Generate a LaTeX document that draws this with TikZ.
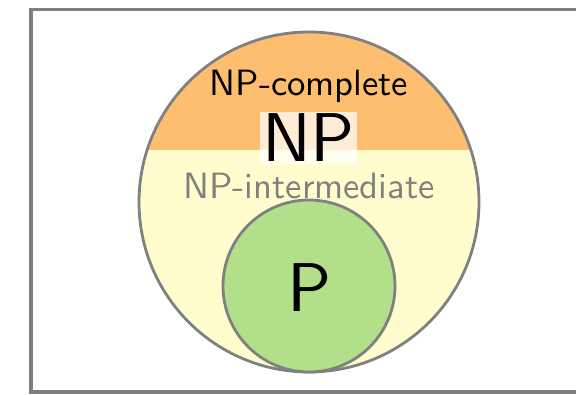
\documentclass[tikz,border=0pt]{standalone}
\usepackage{fontspec}
% the 10pt design of Latin Modern Sans, scaled up
\newfontfamily\lmsten{lmsans10-regular.otf}
\definecolor{npyellow}{RGB}{255,253,206}
\definecolor{nporange}{RGB}{253,190,111}
\definecolor{pgreen}{RGB}{178,223,138}
\definecolor{edgegray}{RGB}{128,128,128}
\begin{document}
\begin{tikzpicture}[x=1pt,y=-1pt,
  setline/.style={draw=edgegray,line width=2.8pt},
  setlabel/.style={anchor=base,inner sep=0pt,font=\lmsten\fontsize{36.6}{42}\selectfont},
  biglabel/.style={anchor=base,font=\lmsten\fontsize{69}{80}\selectfont}]
\useasboundingbox (0,0) rectangle (576,395);
% outer frame, running past the right edge
\draw[draw=edgegray,line width=3.2pt] (31,9.5) rectangle (600,392);
% NP disc with the NP-complete cap
\fill[npyellow] (309,202) circle (170);
\begin{scope}
  \clip (309,202) circle (170);
  \fill[nporange] (130,20) rectangle (490,150);
\end{scope}
\node[circle,setline,minimum size=340pt,inner sep=0pt] (np) at (309,202) {};
% P disc, touching NP from inside at the bottom
\node[circle,setline,fill=pgreen,minimum size=172pt,inner sep=0pt] (p) at (309,286) {};
% labels
\node[setlabel] (npc) at (309,95.5) {NP-complete};
\node[setlabel,text=edgegray] (npi) at (309,198.5) {NP-intermediate};
\node[biglabel,fill=white,fill opacity=0.72,text opacity=1,inner sep=2.5pt] (nplabel) at (308.5,162) {NP};
\node[biglabel,inner sep=0pt] (plabel) at (310,311.5) {P};
\end{tikzpicture}
\end{document}
